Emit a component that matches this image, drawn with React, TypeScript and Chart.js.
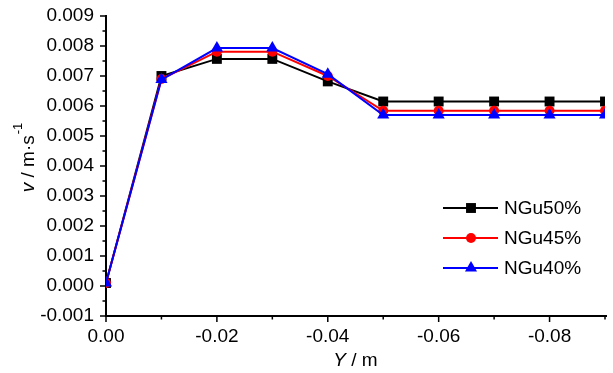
import React, { useEffect, useRef } from "react";
import { Chart, registerables } from "chart.js";

Chart.register(...registerables);

const xValues = [0, -0.01, -0.02, -0.03, -0.04, -0.05, -0.06, -0.07, -0.08, -0.09];
const ngu50 = [0.0001, 0.0070, 0.00757, 0.00757, 0.00682, 0.00615, 0.00615, 0.00615, 0.00615, 0.00615];
const ngu45 = [0.0001, 0.0069, 0.00781, 0.00781, 0.00700, 0.00584, 0.00584, 0.00584, 0.00584, 0.00584];
const ngu40 = [0.0001, 0.00688, 0.00793, 0.00793, 0.00706, 0.0057, 0.0057, 0.0057, 0.0057, 0.0057];

const seriesNames = ["NGu50%", "NGu45%", "NGu40%"];
const seriesColors = ["#000000", "#ff0000", "#0000ff"];
const seriesShapes = ["rect", "circle", "triangle"];
const seriesRadius = [7, 5, 7];

const xMajorTicks = [0, -0.02, -0.04, -0.06, -0.08];
const xMinorTicks = [-0.01, -0.03, -0.05, -0.07, -0.09];
const yMajorTicks = [-0.001, 0, 0.001, 0.002, 0.003, 0.004, 0.005, 0.006, 0.007, 0.008, 0.009];

const FONT = "Arial, 'Liberation Sans', sans-serif";

function drawMarker(ctx: CanvasRenderingContext2D, shape: string, x: number, y: number, r: number, color: string) {
  ctx.save();
  ctx.fillStyle = color;
  ctx.beginPath();
  if (shape === "rect") {
    const s = Math.SQRT1_2 * r;
    ctx.rect(x - s, y - s, 2 * s, 2 * s);
  } else if (shape === "circle") {
    ctx.arc(x, y, r, 0, Math.PI * 2);
  } else {
    ctx.moveTo(x, y - r);
    ctx.lineTo(x + r * Math.sin((2 * Math.PI) / 3), y - r * Math.cos((2 * Math.PI) / 3));
    ctx.lineTo(x + r * Math.sin((4 * Math.PI) / 3), y - r * Math.cos((4 * Math.PI) / 3));
    ctx.closePath();
  }
  ctx.fill();
  ctx.restore();
}

const axesPlugin = {
  id: "customAxes",
  beforeDatasetsDraw(chart: any) {
    const { ctx, chartArea, scales } = chart;
    const xs = scales.x;
    const ys = scales.y;
    ctx.save();
    ctx.strokeStyle = "#000";
    ctx.lineWidth = 2;
    ctx.beginPath();
    ctx.moveTo(chartArea.left, chartArea.top - 1);
    ctx.lineTo(chartArea.left, chartArea.bottom);
    ctx.lineTo(chartArea.right + 2, chartArea.bottom);
    ctx.stroke();
    ctx.lineWidth = 1.5;
    ctx.beginPath();
    for (const v of yMajorTicks) {
      const y = ys.getPixelForValue(v);
      ctx.moveTo(chartArea.left, y);
      ctx.lineTo(chartArea.left - 6, y);
      if (v < 0.009) {
        const ym = ys.getPixelForValue(v + 0.0005);
        ctx.moveTo(chartArea.left, ym);
        ctx.lineTo(chartArea.left - 3.5, ym);
      }
    }
    for (const v of xMajorTicks) {
      const x = xs.getPixelForValue(v);
      ctx.moveTo(x, chartArea.bottom);
      ctx.lineTo(x, chartArea.bottom + 6);
    }
    for (const v of xMinorTicks) {
      const x = xs.getPixelForValue(v);
      ctx.moveTo(x, chartArea.bottom);
      ctx.lineTo(x, chartArea.bottom + 3.5);
    }
    ctx.stroke();
    ctx.restore();
  },
  afterDraw(chart: any) {
    const { ctx, chartArea } = chart;
    ctx.save();
    ctx.fillStyle = "#000";
    // X title
    ctx.textBaseline = "middle";
    ctx.font = `italic 19px ${FONT}`;
    const yW = ctx.measureText("Y").width;
    ctx.font = `19px ${FONT}`;
    const restW = ctx.measureText(" / m").width;
    const cx = (chartArea.left + chartArea.right) / 2;
    const sx = cx - (yW + restW) / 2;
    ctx.font = `italic 19px ${FONT}`;
    ctx.textAlign = "left";
    ctx.fillText("Y", sx, 361);
    ctx.font = `19px ${FONT}`;
    ctx.fillText(" / m", sx + yW, 361);

    // Y title (rotated)
    ctx.translate(29, 158);
    ctx.rotate(-Math.PI / 2);
    ctx.font = `italic 19px ${FONT}`;
    const vW = ctx.measureText("v").width;
    ctx.font = `19px ${FONT}`;
    const midW = ctx.measureText(" / m\u00b7s").width;
    ctx.font = `13px ${FONT}`;
    const supW = ctx.measureText("-1").width;
    let tx = -(vW + midW + supW) / 2;
    ctx.font = `italic 19px ${FONT}`;
    ctx.fillText("v", tx, 0);
    tx += vW;
    ctx.font = `19px ${FONT}`;
    ctx.fillText(" / m\u00b7s", tx, 0);
    tx += midW;
    ctx.font = `13px ${FONT}`;
    ctx.fillText("-1", tx + 1, -11);
    ctx.restore();

    // Legend
    ctx.save();
    const rows = [208, 238, 268];
    for (let i = 0; i < 3; i++) {
      const y = rows[i];
      ctx.strokeStyle = seriesColors[i];
      ctx.lineWidth = 2;
      ctx.beginPath();
      ctx.moveTo(443, y);
      ctx.lineTo(498, y);
      ctx.stroke();
      drawMarker(ctx, seriesShapes[i], 471, y, seriesRadius[i], seriesColors[i]);
      ctx.fillStyle = "#000";
      ctx.font = `19px ${FONT}`;
      ctx.textAlign = "left";
      ctx.textBaseline = "middle";
      ctx.fillText(seriesNames[i], 504, y + 1);
    }
    ctx.restore();
  },
};

export default function App() {
  const canvasRef = useRef<HTMLCanvasElement | null>(null);

  useEffect(() => {
    const canvas = canvasRef.current;
    if (!canvas) return;
    const seriesData = [ngu50, ngu45, ngu40];
    const datasets = seriesData.map((vals, i) => ({
      label: seriesNames[i],
      data: xValues.map((x, j) => ({ x, y: vals[j] })),
      borderColor: seriesColors[i],
      backgroundColor: seriesColors[i],
      borderWidth: 2,
      pointStyle: seriesShapes[i] as any,
      pointRadius: seriesRadius[i],
      pointBorderWidth: 0,
      pointBackgroundColor: seriesColors[i],
      tension: 0,
      order: 2 - i,
    }));

    const chart = new Chart(canvas, {
      type: "line",
      data: { datasets },
      options: {
        animation: false,
        responsive: false,
        devicePixelRatio: 1,
        layout: { padding: { left: 0, right: 8, top: 16, bottom: 0 } },
        plugins: { legend: { display: false }, tooltip: { enabled: false } },
        scales: {
          x: {
            type: "linear",
            reverse: true,
            min: -0.09,
            max: 0,
            afterBuildTicks: (scale: any) => {
              scale.ticks = xMajorTicks.map((v) => ({ value: v }));
            },
            afterFit: (scale: any) => {
              scale.height = 57;
            },
            grid: { display: false },
            border: { display: false },
            ticks: {
              autoSkip: false,
              maxRotation: 0,
              padding: 1,
              color: "#000",
              font: { family: FONT, size: 19 },
              callback: (v: any) => {
                const n = Math.round(Number(v) * 100) / 100;
                return n === 0 ? "0.00" : n.toFixed(2);
              },
            },
          },
          y: {
            type: "linear",
            min: -0.001,
            max: 0.009,
            afterBuildTicks: (scale: any) => {
              scale.ticks = yMajorTicks.map((v) => ({ value: v }));
            },
            afterFit: (scale: any) => {
              scale.width = 106;
            },
            grid: { display: false },
            border: { display: false },
            ticks: {
              autoSkip: false,
              padding: 4,
              color: "#000",
              font: { family: FONT, size: 19 },
              callback: (v: any) => {
                const n = Math.round(Number(v) * 1000) / 1000;
                return n === 0 ? "0.000" : n.toFixed(3);
              },
            },
          },
        },
      },
      plugins: [axesPlugin],
    });
    return () => chart.destroy();
  }, []);

  return (
    <div style={{ position: "absolute", left: 0, top: 0, width: 613, height: 373, background: "#fff" }}>
      <canvas ref={canvasRef} width={613} height={373} style={{ width: 613, height: 373, display: "block" }} />
    </div>
  );
}
